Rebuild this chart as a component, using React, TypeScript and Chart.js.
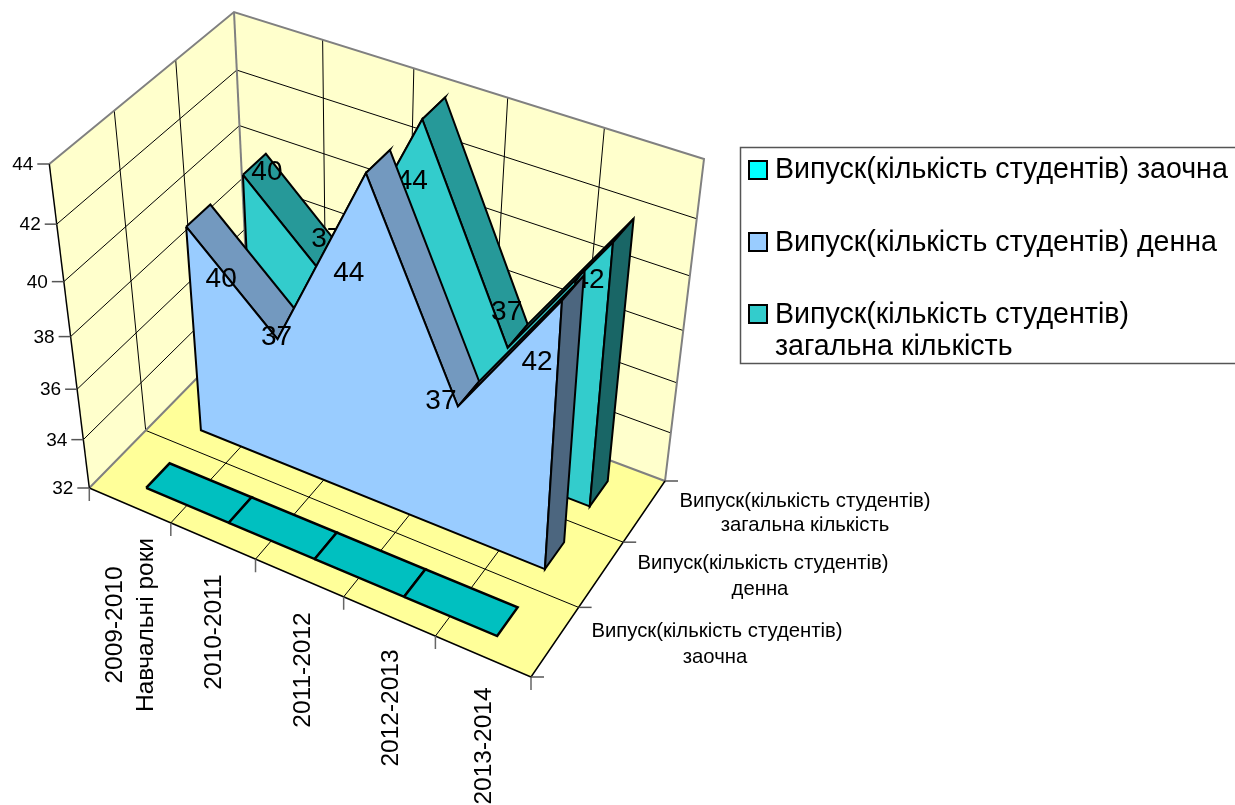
import React, { useEffect, useRef } from "react";
import { Chart, registerables } from "chart.js";

Chart.register(...registerables);

// ---- data ----
const yearLabels = ["2009-2010", "2010-2011", "2011-2012", "2012-2013", "2013-2014"];
const categoryTitle = "Навчальні роки";
const zaochna = [0, 0, 0, 0, 0];
const denna = [40, 37, 44, 37, 42];
const zagalna = [40, 37, 44, 37, 42];
const valueTicks = [32, 34, 36, 38, 40, 42, 44];
const seriesNames = [
  "Випуск(кількість студентів) заочна",
  "Випуск(кількість студентів) денна",
  "Випуск(кількість студентів) загальна кількість",
];

// ---- 3D box, as seen in the picture ----
type P = [number, number];
const W = 1235;
const H = 805;
const FLOOR: P[] = [[89.3, 488], [531, 677], [665, 481], [249, 325]];
const ROOF: P[] = [[49.3, 164], [547, 337], [704, 159], [234, 12]];
const VMIN = 32;
const VMAX = 44;
const PERSPECTIVE = 1.14;
const BAND_FROM = 0.29;
const BAND_TO = 0.71;

function homography(q: P[]) {
  const [[x0, y0], [x1, y1], [x2, y2], [x3, y3]] = q;
  const dx1 = x1 - x2, dx2 = x3 - x2, dx3 = x0 - x1 + x2 - x3;
  const dy1 = y1 - y2, dy2 = y3 - y2, dy3 = y0 - y1 + y2 - y3;
  const den = dx1 * dy2 - dx2 * dy1;
  const g = (dx3 * dy2 - dx2 * dy3) / den;
  const h = (dx1 * dy3 - dx3 * dy1) / den;
  const a = x1 - x0 + g * x1, b = x3 - x0 + h * x3;
  const d = y1 - y0 + g * y1, e = y3 - y0 + h * y3;
  return (u: number, w: number): P => {
    const k = g * u + h * w + 1;
    return [(a * u + b * w + x0) / k, (d * u + e * w + y0) / k];
  };
}
const floorMap = homography(FLOOR);
const roofMap = homography(ROOF);

function project(u: number, w: number, value: number): P {
  const v = Math.max(VMIN, Math.min(VMAX, value));
  const t = (v - VMIN) / (VMAX - VMIN);
  const s = t / (t + (1 - t) * PERSPECTIVE);
  const a = floorMap(u, w);
  const b = roofMap(u, w);
  return [a[0] + (b[0] - a[0]) * s, a[1] + (b[1] - a[1]) * s];
}

// ---- dataset helpers ----
const xy = (p: P) => ({ x: p[0], y: p[1] });
function shape(points: P[], fillColor: string, stroke: string, width: number) {
  return {
    data: [...points, points[0]].map(xy),
    showLine: true,
    fill: "shape",
    backgroundColor: fillColor,
    borderColor: stroke,
    borderWidth: width,
    borderJoinStyle: "miter",
    pointRadius: 0,
    tension: 0,
    clip: false,
  };
}
function stroke(points: P[], color: string, width: number) {
  return {
    data: points.map(xy),
    showLine: true,
    fill: false,
    borderColor: color,
    borderWidth: width,
    pointRadius: 0,
    tension: 0,
    clip: false,
  };
}

const catU = (i: number) => (i + 0.5) / yearLabels.length;
const bandW = (s: number, f: number) => (s + f) / seriesNames.length;

function areaSeries(values: number[], s: number, front: string, top: string, side: string, lw: number) {
  const w0 = bandW(s, BAND_FROM);
  const w1 = bandW(s, BAND_TO);
  const out: any[] = [];
  for (let i = 0; i < values.length - 1; i++) {
    out.push(
      shape(
        [
          project(catU(i), w0, values[i]),
          project(catU(i + 1), w0, values[i + 1]),
          project(catU(i + 1), w1, values[i + 1]),
          project(catU(i), w1, values[i]),
        ],
        top, "#000000", lw,
      ),
    );
  }
  const last = values.length - 1;
  const outline: P[] = values.map((v, i) => project(catU(i), w0, v));
  outline.push(project(catU(last), w0, VMIN), project(catU(0), w0, VMIN));
  out.push(shape(outline, front, "#000000", lw));
  out.push(
    shape(
      [
        project(catU(last), w0, values[last]),
        project(catU(last), w1, values[last]),
        project(catU(last), w1, VMIN),
        project(catU(last), w0, VMIN),
      ],
      side, "#000000", lw,
    ),
  );
  return out;
}

function buildDatasets() {
  const n = yearLabels.length;
  const m = seriesNames.length;
  const ds: any[] = [];
  // walls and floor
  ds.push(shape([project(0, 0, VMIN), project(0, 1, VMIN), project(0, 1, VMAX), project(0, 0, VMAX)], "#FFFFCC", "#FFFFCC", 0));
  ds.push(shape([project(0, 1, VMIN), project(1, 1, VMIN), project(1, 1, VMAX), project(0, 1, VMAX)], "#FFFFCC", "#FFFFCC", 0));
  ds.push(shape([project(0, 0, VMIN), project(1, 0, VMIN), project(1, 1, VMIN), project(0, 1, VMIN)], "#FFFF99", "#FFFF99", 0));
  // gridlines
  valueTicks.slice(1, -1).forEach((v) => {
    ds.push(stroke([project(0, 0, v), project(0, 1, v), project(1, 1, v)], "#000000", 1));
  });
  for (let i = 1; i < n; i++) {
    const u = i / n;
    ds.push(stroke([project(u, 1, VMAX), project(u, 1, VMIN), project(u, 0, VMIN)], "#000000", 1));
  }
  for (let s = 1; s < m; s++) {
    const w = s / m;
    ds.push(stroke([project(0, w, VMAX), project(0, w, VMIN), project(1, w, VMIN)], "#000000", 1));
  }
  // wall edges
  ds.push(stroke([project(0, 0, VMAX), project(0, 1, VMAX), project(1, 1, VMAX), project(1, 1, VMIN), project(0, 1, VMIN), project(0, 0, VMIN)], "#808080", 2));
  ds.push(stroke([project(0, 1, VMIN), project(0, 1, VMAX)], "#808080", 2));
  ds.push(stroke([project(0, 0, VMIN), project(1, 0, VMIN), project(1, 1, VMIN)], "#000000", 1.5));
  ds.push(stroke([project(0, 0, VMIN), project(0, 0, VMAX)], "#000000", 1.5));
  // ticks
  valueTicks.forEach((v) => {
    const p = project(0, 0, v);
    ds.push(stroke([[p[0] - 12, p[1]], p], "#555555", 1.5));
  });
  for (let i = 0; i <= n; i++) {
    const p = project(i / n, 0, VMIN);
    ds.push(stroke([p, [p[0], p[1] + 13]], "#666666", 1.5));
  }
  for (let s = 0; s <= m; s++) {
    const p = project(1, s / m, VMIN);
    ds.push(stroke([p, [p[0] + 13, p[1]]], "#555555", 1.5));
  }
  // back series; its value labels sit behind the series in front of it
  ds.push(...areaSeries(zagalna, 2, "#33CCCC", "#269999", "#196666", 2));
  ds[ds.length - 1].labelsAfter = true;
  ds.push(...areaSeries(denna, 1, "#99CCFF", "#7399BF", "#4C667F", 2));
  // the extramural series lies below the axis minimum: flat on the floor
  for (let i = 0; i < zaochna.length - 1; i++) {
    ds.push(
      shape(
        [
          project(catU(i), bandW(0, BAND_FROM), zaochna[i]),
          project(catU(i + 1), bandW(0, BAND_FROM), zaochna[i + 1]),
          project(catU(i + 1), bandW(0, BAND_TO), zaochna[i + 1]),
          project(catU(i), bandW(0, BAND_TO), zaochna[i]),
        ],
        "#00C0C0", "#000000", 2.5,
      ),
    );
  }
  return ds.reverse();
}

// ---- text layout ----
const FONT = '"Liberation Sans", Arial, sans-serif';
const DENNA_NUDGE: P[] = [[35, 53], [-1, -2], [-17, 100], [-17, -5], [-25, 62]];
const ZAGALNA_NUDGE: P[] = [[24, -2], [-4, -45], [-10, 62], [-1, -36], [-24, 38]];
const YEAR_POS: P[] = [[115, 625], [214, 632], [303, 670], [391, 708], [484, 746]];
const TITLE_POS: P = [146, 625];
const SERIES_AXIS_TEXT: [string, number, number][] = [
  ["Випуск(кількість студентів)", 805, 501],
  ["загальна кількість", 805, 525],
  ["Випуск(кількість студентів)", 763, 563],
  ["денна", 760, 589],
  ["Випуск(кількість студентів)", 717, 631],
  ["заочна", 715, 657],
];

function putText(chart: any, s: string, x: number, y: number, size: number, align: CanvasTextAlign = "center") {
  const ctx: CanvasRenderingContext2D = chart.ctx;
  ctx.font = `${size}px ${FONT}`;
  ctx.textAlign = align;
  ctx.textBaseline = "middle";
  ctx.fillStyle = "#000000";
  ctx.fillText(s, chart.scales.x.getPixelForValue(x), chart.scales.y.getPixelForValue(y));
}
function labelSeries(chart: any, vals: number[], s: number, nudge: P[]) {
  vals.forEach((v, i) => {
    const p = project(catU(i), bandW(s, BAND_FROM), v);
    putText(chart, String(v), p[0] + nudge[i][0], p[1] + nudge[i][1], 28);
  });
}

const overlay = {
  id: "overlay",
  afterDatasetDraw(chart: any, args: any) {
    if (chart.data.datasets[args.index].labelsAfter) {
      chart.ctx.save();
      labelSeries(chart, zagalna, 2, ZAGALNA_NUDGE);
      chart.ctx.restore();
    }
  },
  afterDatasetsDraw(chart: any) {
    const ctx: CanvasRenderingContext2D = chart.ctx;
    const sx = chart.scales.x;
    const sy = chart.scales.y;
    const text = (s: string, x: number, y: number, size: number, align: CanvasTextAlign = "center") =>
      putText(chart, s, x, y, size, align);
    ctx.save();
    labelSeries(chart, denna, 1, DENNA_NUDGE);
    // value axis labels
    valueTicks.forEach((v) => {
      const p = project(0, 0, v);
      text(String(v), p[0] - 16, p[1] + 1, 19, "right");
    });
    // series axis labels
    SERIES_AXIS_TEXT.forEach(([s, x, y]) => text(s, x, y, 20.3));
    // category labels
    const vertical = (s: string, x: number, y: number) => {
      ctx.save();
      ctx.translate(sx.getPixelForValue(x), sy.getPixelForValue(y));
      ctx.rotate(-Math.PI / 2);
      ctx.font = `24.5px ${FONT}`;
      ctx.textAlign = "center";
      ctx.textBaseline = "middle";
      ctx.fillStyle = "#000000";
      ctx.fillText(s, 0, 0);
      ctx.restore();
    };
    yearLabels.forEach((s, i) => vertical(s, YEAR_POS[i][0], YEAR_POS[i][1]));
    vertical(categoryTitle, TITLE_POS[0], TITLE_POS[1]);
    // legend
    ctx.strokeStyle = "#555555";
    ctx.lineWidth = 1.5;
    ctx.strokeRect(740.5, 147.5, 497, 216);
    const swatch = (color: string, y: number) => {
      ctx.fillStyle = color;
      ctx.fillRect(749, y, 18, 18);
      ctx.strokeStyle = "#000000";
      ctx.lineWidth = 2;
      ctx.strokeRect(749, y, 18, 18);
    };
    swatch("#00FFFF", 161);
    swatch("#99CCFF", 233);
    swatch("#33CCCC", 305);
    text(seriesNames[0], 775, 170, 28.6, "left");
    text(seriesNames[1], 775, 243, 28.6, "left");
    text("Випуск(кількість студентів)", 775, 315, 28.6, "left");
    text("загальна кількість", 775, 347, 28.6, "left");
    ctx.restore();
  },
};

export default function App() {
  const ref = useRef<HTMLCanvasElement | null>(null);
  useEffect(() => {
    document.body.style.margin = "0";
    const chart = new Chart(ref.current as HTMLCanvasElement, {
      type: "scatter",
      data: { datasets: buildDatasets() },
      options: {
        animation: false,
        responsive: false,
        layout: { padding: 0 },
        events: [],
        plugins: {
          legend: { display: false },
          tooltip: { enabled: false },
          filler: { propagate: false },
        },
        scales: {
          x: { type: "linear", min: 0, max: W, display: false },
          y: { type: "linear", min: 0, max: H, reverse: true, display: false },
        },
      },
      plugins: [overlay],
    } as any);
    return () => chart.destroy();
  }, []);
  return (
    <div style={{ width: W, height: H, position: "relative" }}>
      <canvas ref={ref} width={W} height={H} style={{ display: "block" }} />
    </div>
  );
}
